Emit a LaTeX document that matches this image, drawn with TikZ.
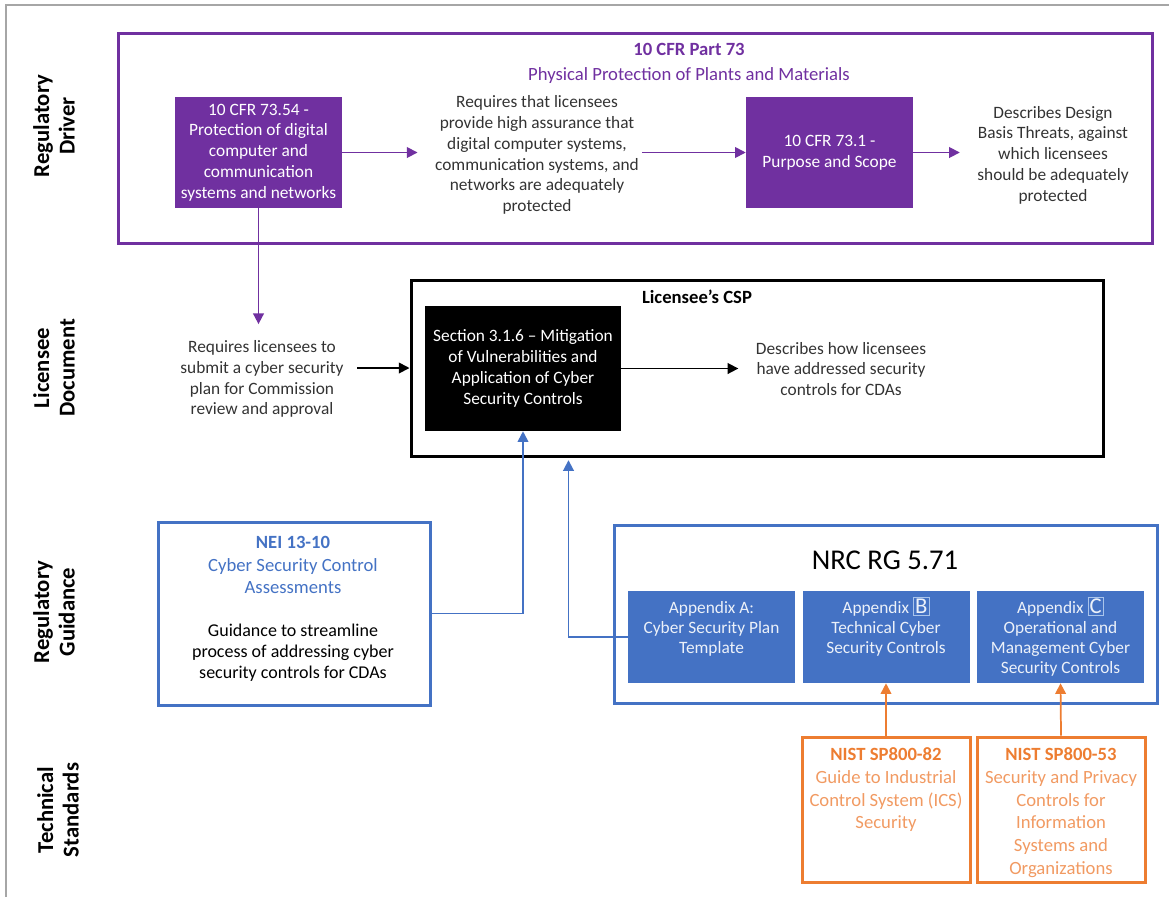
\documentclass[tikz,border=0pt]{standalone}
\usepackage{fontspec}
\setmainfont{Carlito}
\usetikzlibrary{positioning,arrows.meta}

\definecolor{drvpurple}{HTML}{7030A0}
\definecolor{gdblue}{HTML}{4472C4}
\definecolor{gdlight}{HTML}{A9C4EB}
\definecolor{stdorange}{HTML}{ED7D31}
\definecolor{stdlight}{HTML}{F19A62}
\definecolor{bodygray}{HTML}{333333}
\definecolor{framegray}{HTML}{A6A6A6}

% boxed appendix letter, as in the source figure
\newcommand{\appletter}[1]{\smash{\setlength{\fboxsep}{1.2pt}%
  \fcolorbox{gdlight}{gdblue}{\fontsize{17}{17}\selectfont #1}}}

\begin{document}
\begin{tikzpicture}[
  x=0.75pt, y=-0.75pt,
  lane/.style={rotate=90, align=center, inner sep=0pt,
               font=\fontsize{17}{19}\selectfont\bfseries},
  note/.style={align=center, text=bodygray, inner sep=2pt,
               font=\fontsize{13}{15.6}\selectfont},
  frame/.style={draw, line width=2.25pt, inner sep=0pt},
  cfrbox/.style={fill=drvpurple, text=white, align=center, inner sep=0pt,
                 minimum width=125.25pt, minimum height=83.25pt,
                 font=\fontsize{13}{15.6}\selectfont},
  appbox/.style={fill=gdblue, minimum width=125.25pt, minimum height=69pt},
  apptxt/.style={align=center, text=white!90!gdblue, inner sep=2pt,
                 font=\fontsize{13}{15}\selectfont},
  nistbox/.style={draw=stdorange, line width=2.25pt,
                  minimum width=126pt, minimum height=108.75pt},
  nisttxt/.style={align=center, text=stdlight, inner sep=2pt,
                  font=\fontsize{14}{17}\selectfont},
  arr/.style={line width=1.3pt, -{Triangle[length=8pt,width=8pt]}}
]
\useasboundingbox (0,0) rectangle (1169,897);
\draw[framegray, line width=1.5pt] (6,897) -- (6,5) -- (1169,5);

% ── lane labels ──────────────────────────────────────────────────────
\node[lane] (drvlane) at (54,126) {Regulatory\\Driver};
\node[lane] (doclane) at (54,368) {Licensee\\Document};
\node[lane] (gdlane)  at (54,612) {Regulatory\\Guidance};
\node[lane] (stdlane) at (58,810) {Technical\\Standards};

% ── regulatory driver ────────────────────────────────────────────────
\node[frame, draw=drvpurple, minimum width=775.5pt, minimum height=157.5pt]
      (drvbox) at (635,138) {};
\node[align=center, text=drvpurple, font=\fontsize{14}{18.75}\selectfont]
      (drvtitle) at (689,63) {\textbf{10 CFR Part 73}\\
                              Physical Protection of Plants and Materials};
\node[cfrbox] (cfr7354) at (258.5,152.5) {10 CFR 73.54 -\\Protection of digital\\
                                          computer and\\communication\\
                                          systems and networks};
\node[note] (hatext) at (537,155) {Requires that licensees\\
                                   provide high assurance that\\
                                   digital computer systems,\\
                                   communication systems, and\\
                                   networks are adequately\\protected};
\node[cfrbox] (cfr731) at (829.5,152.5) {10 CFR 73.1 -\\Purpose and Scope};
\node[note] (dbttext) at (1053,155) {Describes Design\\Basis Threats, against\\
                                     which licensees\\should be adequately\\
                                     protected};

\draw[arr, drvpurple, shorten >=11pt] (cfr7354.east) -- (cfr7354.east -| hatext.west);
\draw[arr, drvpurple] (hatext.east |- cfr731.west) -- (cfr731.west);
\draw[arr, drvpurple, shorten >=11pt] (cfr731.east) -- (cfr731.east -| dbttext.west);

% ── licensee document ────────────────────────────────────────────────
\node[frame, draw=black, minimum width=519pt, minimum height=132pt]
      (cspbox) at (757,368) {};
\node[font=\fontsize{14}{16}\selectfont\bfseries] (csptitle) at (697,297)
      {Licensee’s CSP};
\node[fill=black, text=white, align=center, minimum width=147pt,
      minimum height=93.75pt, font=\fontsize{13}{15.6}\selectfont]
      (sec316) at (523,368.5) {Section 3.1.6 – Mitigation\\of Vulnerabilities and\\
                               Application of Cyber\\Security Controls};
\node[note] (subtext) at (262,379) {Requires licensees to\\submit a cyber security\\
                                    plan for Commission\\review and approval};
\node[note] (cdatext) at (841,369) {Describes how licensees\\have addressed security\\
                                    controls for CDAs};

\draw[arr, drvpurple, shorten >=10pt] (cfr7354.south) -- (cfr7354.south |- subtext.north);
\draw[arr, shorten <=8pt] (subtext.east |- cspbox.west) -- (cspbox.west);
\draw[arr, shorten >=11pt] (sec316.east) -- (sec316.east -| cdatext.west);

% ── regulatory guidance ──────────────────────────────────────────────
\node[frame, draw=gdblue, minimum width=204pt, minimum height=137.25pt]
      (neibox) at (294,613.5) {};
\node[align=center, text=gdblue, font=\fontsize{14}{17}\selectfont]
      (neititle) at (293,565) {\textbf{NEI 13-10}\\Cyber Security Control\\Assessments};
\node[note, text=black, font=\fontsize{13.5}{15.75}\selectfont]
      (neitext) at (293,653) {Guidance to streamline\\process of addressing cyber\\
                              security controls for CDAs};

\node[frame, draw=gdblue, minimum width=407.25pt, minimum height=133.5pt]
      (rgbox) at (885.5,614) {};
\node[font=\fontsize{21.5}{24}\selectfont] (rgtitle) at (885,560) {NRC RG 5.71};
\node[appbox] (appA) at (711.5,637) {};
\node[appbox] (appB) at (886,637)   {};
\node[appbox] (appC) at (1060.5,637) {};
\node[apptxt, below=6pt of appA.north] (appAtxt)
      {Appendix A:\\Cyber Security Plan\\Template};
\node[apptxt, below=6pt of appB.north] (appBtxt)
      {Appendix \appletter{B}\\Technical Cyber\\Security Controls};
\node[apptxt, below=6pt of appC.north] (appCtxt)
      {Appendix \appletter{C}\\Operational and\\Management Cyber\\Security Controls};

\draw[arr, gdblue] (neibox.east) -| (sec316.south);
\draw[arr, gdblue, shorten >=2pt] (appA.west) -| ([xshift=119.25pt]cspbox.south west);

% ── technical standards ──────────────────────────────────────────────
\node[nistbox] (nist82) at (886,809.5)  {};
\node[nistbox] (nist53) at (1061,809.5) {};
\node[nisttxt, below=7pt of nist82.north] (nist82txt)
      {\textcolor{stdorange}{\textbf{NIST SP800-82}}\\Guide to Industrial\\
       Control System (ICS)\\Security};
\node[nisttxt, below=7pt of nist53.north] (nist53txt)
      {\textcolor{stdorange}{\textbf{NIST SP800-53}}\\Security and Privacy\\
       Controls for\\Information\\Systems and\\Organizations};

\draw[arr, stdorange] (nist82.north) -- (appB.south);
\draw[arr, stdorange] (nist53.north) -- (appC.south);

\end{tikzpicture}
\end{document}
